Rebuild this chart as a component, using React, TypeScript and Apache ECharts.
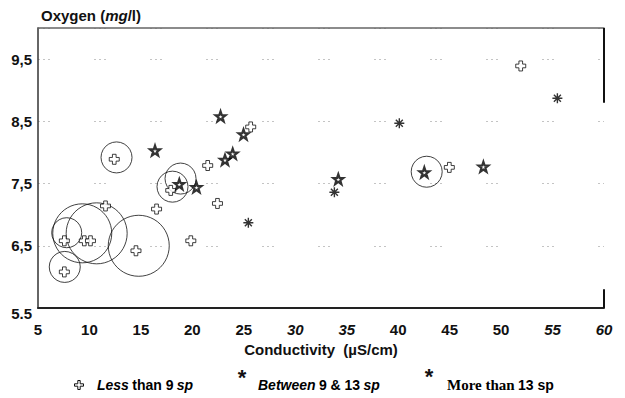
import React, { useEffect, useRef } from "react";
import * as echarts from "echarts";

// Less than 9 species (open crosses): [conductivity, oxygen]
const lessThan9: [number, number][] = [
  [12.41, 7.89], [25.67, 8.41], [21.49, 7.79], [17.9, 7.39], [11.56, 7.14],
  [16.52, 7.09], [22.44, 7.18], [19.85, 6.58], [7.56, 6.58], [9.5, 6.58],
  [10.1, 6.58], [14.52, 6.42], [7.56, 6.08], [51.91, 9.39], [44.97, 7.76],
];
// Between 9 & 13 species (stars)
const between9and13: [number, number][] = [
  [16.37, 8.03], [22.74, 8.58], [24.97, 8.29], [23.92, 7.98], [23.17, 7.88],
  [18.73, 7.49], [20.4, 7.44], [42.54, 7.68], [48.28, 7.77], [34.18, 7.57],
];
// More than 13 species (asterisks)
const moreThan13: [number, number][] = [
  [25.44, 6.87], [55.47, 8.87], [40.11, 8.47], [33.8, 7.36],
];
// Open circles: [conductivity, oxygen, size]
const circles: [number, number, number][] = [
  [12.63, 7.92, 31], [18.85, 7.58, 31], [18.07, 7.45, 31], [42.77, 7.69, 31],
  [7.79, 6.71, 30], [7.6, 6.16, 31], [9.3, 6.7, 59], [10.7, 6.7, 61], [14.79, 6.5, 61],
];
const italicXTicks = [30, 35, 55, 60];

const CROSS = "path://M-1.1,-3L1.1,-3L1.1,-1.1L3,-1.1L3,1.1L1.1,1.1L1.1,3L-1.1,3L-1.1,1.1L-3,1.1L-3,-1.1L-1.1,-1.1Z";
const STAR = "path://M0,-5L1.18,-1.62L4.76,-1.55L1.9,0.62L2.94,4.05L0,2L-2.94,4.05L-1.9,0.62L-4.76,-1.55L-1.18,-1.62Z";
const ASTER = "path://M0,-5L0,5M-5,0L5,0M-3.5,-3.5L3.5,3.5M-3.5,3.5L3.5,-3.5";

const SANS = "'Liberation Sans', Arial, sans-serif";
const SERIF = "'Liberation Serif', 'Times New Roman', serif";

export default function App() {
  const ref = useRef<HTMLDivElement>(null);
  useEffect(() => {
    if (!ref.current) return;
    const chart = echarts.init(ref.current, null, { renderer: "svg" });
    const legendRich = {
      bi: { fontFamily: SANS, fontWeight: "bold", fontStyle: "italic", fontSize: 14, color: "#111" },
      n: { fontFamily: SANS, fontWeight: "bold", fontSize: 14, color: "#111" },
      s: { fontFamily: SERIF, fontWeight: "bold", fontSize: 15, color: "#111" },
    };
    chart.setOption({
      animation: false,
      backgroundColor: "#fff",
      title: {
        text: "{a|Oxygen (}{b|mg}{a|/l)}",
        left: 36,
        top: 3,
        textStyle: {
          rich: {
            a: { fontFamily: SANS, fontWeight: "bold", fontSize: 15, color: "#111" },
            b: { fontFamily: SANS, fontWeight: "bold", fontStyle: "italic", fontSize: 15, color: "#111" },
          },
        },
      },
      grid: { left: 38, right: 21, top: 28, bottom: 90 },
      xAxis: [
        {
          type: "value",
          min: 5,
          max: 60,
          interval: 5,
          name: "Conductivity  (µS/cm)",
          nameLocation: "middle",
          nameGap: 33,
          nameTextStyle: { fontFamily: SANS, fontWeight: "bold", fontSize: 15, color: "#111" },
          axisLine: { show: true, onZero: false, lineStyle: { color: "#222", width: 2 } },
          axisTick: { show: false },
          splitLine: { show: false },
          axisLabel: {
            margin: 14,
            formatter: (v: number) => (italicXTicks.includes(v) ? `{i|${v}}` : `{n|${v}}`),
            rich: {
              n: { fontFamily: SANS, fontWeight: "bold", fontSize: 15, color: "#111" },
              i: { fontFamily: SANS, fontWeight: "bold", fontStyle: "italic", fontSize: 15, color: "#111" },
            },
          },
        },
        {
          type: "value",
          position: "top",
          min: 5,
          max: 60,
          axisLine: { show: true, onZero: false, lineStyle: { color: "#666", width: 1.5 } },
          axisTick: { show: false },
          axisLabel: { show: false },
          splitLine: { show: false },
        },
      ],
      yAxis: {
        type: "value",
        min: 5.5,
        max: 10,
        interval: 1,
        axisLine: { show: true, onZero: false, lineStyle: { color: "#333", width: 1.5 } },
        axisTick: { show: false },
        splitLine: {
          show: true,
          lineStyle: { color: "#c4c4c4", width: 1, type: [2, 3, 2, 3, 2, 44] },
        },
        axisLabel: {
          margin: 6,
          formatter: (v: number) => {
            if (Math.abs(v - 10) < 1e-6) return "";
            if (Math.abs(v - 5.5) < 1e-6) return "{low|5.5}";
            return `{n|${String(v).replace(".", ",")}}`;
          },
          rich: {
            n: { fontFamily: SANS, fontWeight: "bold", fontSize: 15, color: "#111" },
            low: { fontFamily: SANS, fontWeight: "bold", fontSize: 15, color: "#111", padding: [10, 0, 0, 0] },
          },
        },
      },
      series: [
        {
          type: "scatter",
          name: "circles",
          data: circles.map((c) => ({ value: [c[0], c[1]], symbolSize: c[2] })),
          symbol: "circle",
          itemStyle: { color: "rgba(0,0,0,0)", borderColor: "#111", borderWidth: 1 },
          z: 2,
          markLine: {
            silent: true,
            symbol: "none",
            label: { show: false },
            lineStyle: { color: "#111", width: 2, type: "solid" },
            data: [
              [{ coord: [60, 10] }, { coord: [60, 8.8] }],
              [{ coord: [60, 5.8] }, { coord: [60, 5.5] }],
            ],
          },
        },
        {
          type: "scatter",
          name: "Less than 9 sp",
          data: lessThan9,
          symbol: CROSS,
          symbolSize: 10,
          itemStyle: { color: "#fff", borderColor: "#111", borderWidth: 1 },
          z: 4,
        },
        {
          type: "scatter",
          name: "Between 9 & 13 sp",
          data: between9and13,
          symbol: STAR,
          symbolSize: 10,
          itemStyle: { color: "#fff", borderColor: "#000", borderWidth: 2.2 },
          z: 4,
        },
        {
          type: "scatter",
          name: "More than 13 sp",
          data: moreThan13,
          symbol: ASTER,
          symbolSize: 10,
          itemStyle: { color: "#000", borderColor: "#000", borderWidth: 1.4 },
          z: 4,
        },
      ],
      graphic: [
        {
          type: "polygon",
          shape: {
            points: [
              [77.8, 380.5], [80.2, 380.5], [80.2, 383.8], [83.5, 383.8], [83.5, 386.2], [80.2, 386.2],
              [80.2, 389.5], [77.8, 389.5], [77.8, 386.2], [74.5, 386.2], [74.5, 383.8], [77.8, 383.8],
            ],
          },
          style: { fill: "#fff", stroke: "#111", lineWidth: 1 },
        },
        {
          type: "text",
          x: 97,
          y: 385,
          style: { text: "{bi|Less} {n|than 9} {bi|sp}", rich: legendRich, verticalAlign: "middle", align: "left" },
        },
        {
          type: "text",
          x: 242,
          y: 377,
          style: { text: "*", fontFamily: SANS, fontWeight: "bold", fontSize: 22, fill: "#111", align: "center", verticalAlign: "middle" },
        },
        {
          type: "text",
          x: 258,
          y: 385,
          style: { text: "{bi|Between} {n|9 & 13} {bi|sp}", rich: legendRich, verticalAlign: "middle", align: "left" },
        },
        {
          type: "text",
          x: 429,
          y: 376,
          style: { text: "*", fontFamily: SANS, fontWeight: "bold", fontSize: 22, fill: "#111", align: "center", verticalAlign: "middle" },
        },
        {
          type: "text",
          x: 447,
          y: 385,
          style: { text: "{s|More than} {n|13 sp}", rich: legendRich, verticalAlign: "middle", align: "left" },
        },
      ],
    });
    return () => chart.dispose();
  }, []);
  return (
    <div
      ref={ref}
      style={{ position: "fixed", left: 0, top: 0, width: 625, height: 398, background: "#fff" }}
    />
  );
}
